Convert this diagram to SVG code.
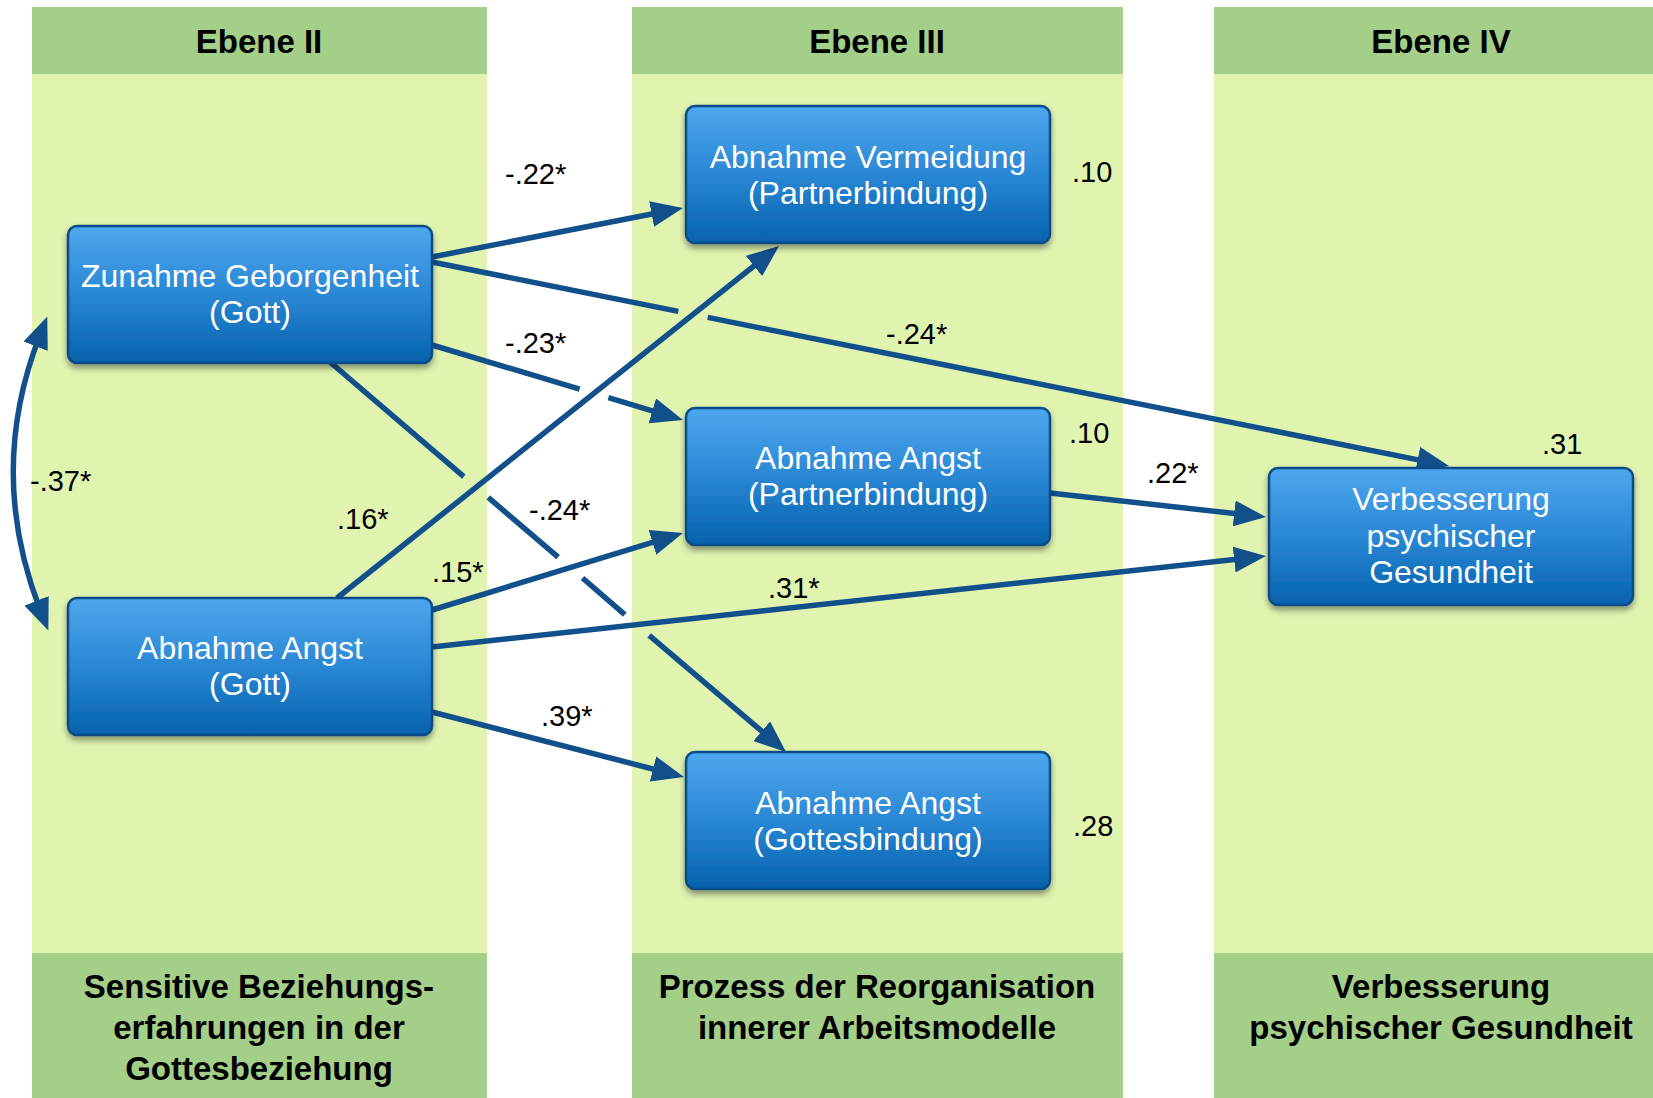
<svg xmlns="http://www.w3.org/2000/svg" width="1653" height="1098" viewBox="0 0 1653 1098">
<style>
.band{fill:#e0f4b0}
.hdr{fill:#a4cf88}
.ht{font-family:"Liberation Sans",Arial,sans-serif;font-weight:bold;font-size:33px;fill:#000;text-anchor:middle}
.node rect{fill:url(#ng);stroke:#0b4c86;stroke-width:2.5;filter:url(#sh)}
.node text{font-family:"Liberation Sans",Arial,sans-serif;font-size:32px;fill:#fff;text-anchor:middle}
.lbl{font-family:"Liberation Sans",Arial,sans-serif;font-size:29px;fill:#000}
.edge{fill:none;stroke:#12508c;stroke-width:5.5}
.arr{marker-end:url(#ah)}
</style>
<defs>
<linearGradient id="ng" x1="0" y1="0" x2="0" y2="1">
<stop offset="0" stop-color="#4ea7ee"/>
<stop offset="0.5" stop-color="#2a87d4"/>
<stop offset="1" stop-color="#0562ac"/>
</linearGradient>
<filter id="sh" x="-10%" y="-10%" width="120%" height="130%">
<feDropShadow dx="0" dy="4" stdDeviation="3" flood-color="#000" flood-opacity="0.4"/>
</filter>
<marker id="ah" markerUnits="userSpaceOnUse" viewBox="0 0 32 26" refX="12" refY="13" markerWidth="32" markerHeight="26" orient="auto-start-reverse">
<path d="M0,0 L32,13 L0,26 z" fill="#12508c"/>
</marker>
</defs>

<g id="columns">
<rect class="band" x="32" y="7" width="455" height="1091"/>
<rect class="hdr" x="32" y="7" width="455" height="67"/>
<rect class="hdr" x="32" y="953" width="455" height="145"/>
<rect class="band" x="632" y="7" width="491" height="1091"/>
<rect class="hdr" x="632" y="7" width="491" height="67"/>
<rect class="hdr" x="632" y="953" width="491" height="145"/>
<rect class="band" x="1214" y="7" width="439" height="1091"/>
<rect class="hdr" x="1214" y="7" width="439" height="67"/>
<rect class="hdr" x="1214" y="953" width="439" height="145"/>
<text class="ht" x="259" y="53">Ebene II</text>
<text class="ht" x="877" y="53">Ebene III</text>
<text class="ht" x="1441" y="53">Ebene IV</text>
<text class="ht" x="259" y="998">Sensitive Beziehungs-</text>
<text class="ht" x="259" y="1039">erfahrungen in der</text>
<text class="ht" x="259" y="1080">Gottesbeziehung</text>
<text class="ht" x="877" y="998">Prozess der Reorganisation</text>
<text class="ht" x="877" y="1039">innerer Arbeitsmodelle</text>
<text class="ht" x="1441" y="998">Verbesserung</text>
<text class="ht" x="1441" y="1039">psychischer Gesundheit</text>
</g>

<g id="connectors">
<path class="edge arr" d="M432,257 L663.4,211.8"/>
<path class="edge" d="M432,262 L678.3,311.4"/>
<path class="edge arr" d="M707.7,317.4 L1429.4,462.1"/>
<path class="edge" d="M432,345 L579.6,389.1"/>
<path class="edge arr" d="M608.4,397.7 L663.8,414.3"/>
<path class="edge" d="M330,362 L463.8,476.6"/>
<path class="edge" d="M488.2,497.4 L558.1,557.2"/>
<path class="edge" d="M582.5,578 L624.8,614.6"/>
<path class="edge arr" d="M649.2,635.4 L770.8,739"/>
<path class="edge arr" d="M337,598 L763.4,258.5"/>
<path class="edge arr" d="M432,610 L663.9,538.9"/>
<path class="edge arr" d="M432,647 L1246.1,558.2"/>
<path class="edge arr" d="M432,712 L664.6,772"/>
<path class="edge arr" d="M1050,493 L1246.1,514.8"/>
<path class="edge" style="marker-start:url(#ah);marker-end:url(#ah)" d="M40,335 Q-14,473 41,612"/>
</g>

<g id="labels">
<text class="lbl" x="505" y="184">-.22*</text>
<text class="lbl" x="505" y="353">-.23*</text>
<text class="lbl" x="886" y="344">-.24*</text>
<text class="lbl" x="1072" y="182">.10</text>
<text class="lbl" x="1069" y="443">.10</text>
<text class="lbl" x="1147" y="483">.22*</text>
<text class="lbl" x="1542" y="454">.31</text>
<text class="lbl" x="30" y="491">-.37*</text>
<text class="lbl" x="337" y="529">.16*</text>
<text class="lbl" x="432" y="582">.15*</text>
<text class="lbl" x="529" y="520">-.24*</text>
<text class="lbl" x="768" y="598">.31*</text>
<text class="lbl" x="541" y="726">.39*</text>
<text class="lbl" x="1073" y="836">.28</text>
</g>

<g id="n-zunahme" class="node">
<rect x="68" y="226" width="364" height="137" rx="9"/>
<text x="250" y="287">Zunahme Geborgenheit</text>
<text x="250" y="323">(Gott)</text>
</g>
<g id="n-angst-gott" class="node">
<rect x="68" y="598" width="364" height="137" rx="9"/>
<text x="250" y="659">Abnahme Angst</text>
<text x="250" y="695">(Gott)</text>
</g>
<g id="n-vermeidung" class="node">
<rect x="686" y="106" width="364" height="137" rx="9"/>
<text x="868" y="168">Abnahme Vermeidung</text>
<text x="868" y="204">(Partnerbindung)</text>
</g>
<g id="n-angst-partner" class="node">
<rect x="686" y="408" width="364" height="137" rx="9"/>
<text x="868" y="469">Abnahme Angst</text>
<text x="868" y="505">(Partnerbindung)</text>
</g>
<g id="n-angst-gottesbindung" class="node">
<rect x="686" y="752" width="364" height="137" rx="9"/>
<text x="868" y="814">Abnahme Angst</text>
<text x="868" y="850">(Gottesbindung)</text>
</g>
<g id="n-verbesserung" class="node">
<rect x="1269" y="468" width="364" height="137" rx="9"/>
<text x="1451" y="510">Verbesserung</text>
<text x="1451" y="547">psychischer</text>
<text x="1451" y="583">Gesundheit</text>
</g>
</svg>
